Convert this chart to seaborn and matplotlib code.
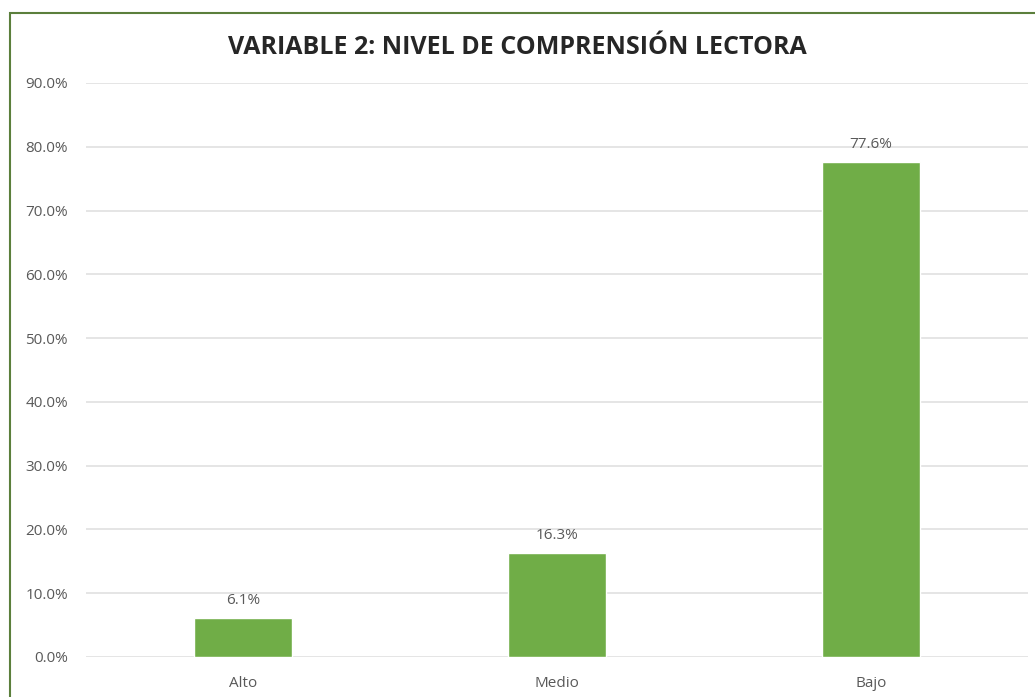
import matplotlib
matplotlib.use("Agg")
import matplotlib.pyplot as plt
import seaborn as sns
import pandas as pd
from matplotlib.patches import Rectangle
from matplotlib.ticker import FuncFormatter

# --- DATOS ---
niveles = ["Alto", "Medio", "Bajo"]
porcentajes = [6.1, 16.3, 77.6]
titulo = "VARIABLE 2: NIVEL DE COMPRENSIÓN LECTORA"

VERDE = "#70ad47"
GRIS = "#595959"

sns.set_style("white")
plt.rcParams["font.family"] = ["Open Sans", "DejaVu Sans"]

df = pd.DataFrame({"nivel": niveles, "pct": porcentajes})

fig = plt.figure(figsize=(10.35, 6.97), dpi=100)
ax = fig.add_axes([86 / 1035, 1 - 657 / 697, 942 / 1035, 574 / 697])

sns.barplot(data=df, x="nivel", y="pct", color=VERDE, width=0.31,
            saturation=1, ax=ax, zorder=3)

ax.set_ylim(0, 90)
ax.set_yticks(range(0, 91, 10))
ax.yaxis.set_major_formatter(FuncFormatter(lambda v, _: f"{v:.1f}%"))
ax.grid(axis="y", color="#dedede", linewidth=1.1, zorder=0)
ax.set_axisbelow(True)
for s in ax.spines.values():
    s.set_visible(False)
ax.tick_params(axis="both", length=0, labelsize=11, labelcolor=GRIS)
ax.tick_params(axis="y", pad=13)
ax.tick_params(axis="x", pad=14)
ax.set_xlabel("")
ax.set_ylabel("")

for i, v in enumerate(porcentajes):
    ax.annotate(f"{v:.1f}%", (i, v), xytext=(0, 7), textcoords="offset points",
                ha="center", va="bottom", fontsize=11, color=GRIS)

fig.text(0.5, 1 - 47 / 697, titulo, ha="center", va="center",
         fontsize=18, fontweight="bold", color="#262626")

# marco verde del gráfico
fig.patches.append(Rectangle((9.5 / 1035, -0.05), 1.2, 1 - 12.5 / 697 + 0.05,
                             transform=fig.transFigure, fill=False,
                             edgecolor="#5b7f3c", linewidth=1.5))

fig.savefig("out.png", dpi=100)
